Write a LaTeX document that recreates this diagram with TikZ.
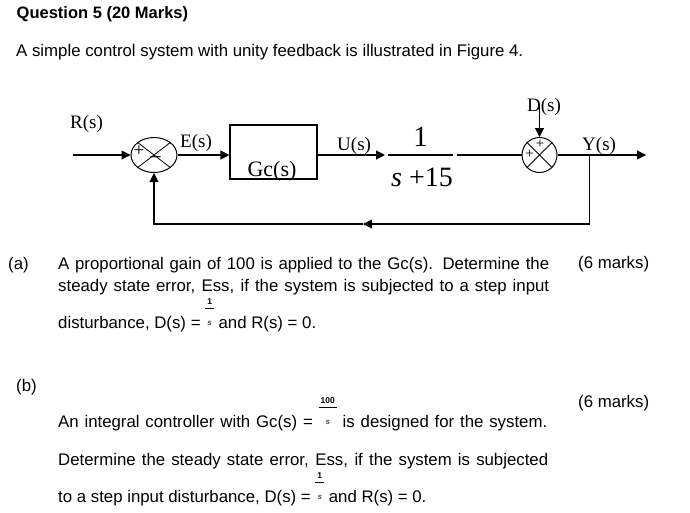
\documentclass[tikz,border=0pt]{standalone}
\usepackage{fontspec}
\setmainfont{Liberation Sans}
\newfontfamily\diagfont{Liberation Serif}
\usetikzlibrary{arrows.meta,positioning,shapes.geometric}
\newlength\fracw
\newcommand\smallfrac[2]{{%
  \setbox0\hbox{\fontsize{8.5}{9}\selectfont\bfseries #1}%
  \setlength\fracw{\wd0}\addtolength\fracw{4pt}%
  \rlap{\raisebox{24pt}{\makebox[\fracw][c]{\copy0}}}%
  \rlap{\raisebox{19pt}{\rule{\fracw}{0.6pt}}}%
  \makebox[\fracw][c]{\raisebox{3pt}{\fontsize{8}{9}\selectfont\bfseries\itshape\color{gray!60!black}#2}}}}

\begin{document}
\begin{tikzpicture}
  [x=1pt,y=-1pt,every node/.style={inner sep=0pt},
   txt/.style={font=\fontsize{16.8}{20}\selectfont,anchor=base west},
   lbl/.style={font=\diagfont\fontsize{19}{22}\selectfont,anchor=base west},
   sgn/.style={font=\diagfont\fontsize{15}{15}\selectfont},
   sumj/.style={draw,line width=1pt},
   arr/.style={line width=1.1pt,-{Triangle[length=9pt,width=9pt]}}]
  \useasboundingbox (0,0) rectangle (690,512);

  % question heading
  \node[txt,font=\bfseries\fontsize{16.5}{20}\selectfont] (q) at (16.5,18.5) {Question 5 (20 Marks)};
  \node[txt,font=\fontsize{16.8}{20}\selectfont] (intro) at (16,56.5) {A simple control system with unity feedback is illustrated in Figure 4.};

  % block diagram
  \node[lbl] (R) at (70,128) {R(s)};
  \coordinate (in) at (73,155);
  \node[sumj,ellipse,minimum width=46pt,minimum height=35pt] (j1) at (154,155) {};
  \draw[line width=.8pt] (j1.north west) -- (j1.south east) (j1.north east) -- (j1.south west);
  \node[sgn,font=\diagfont\fontsize{19}{19}\selectfont] (p1) at (139,151.5) {+};
  \node[sgn,font=\diagfont\fontsize{22}{22}\selectfont] (m1) at (155.5,161) {−};
  \node[lbl] (E) at (180,147) {E(s)};
  \node[draw,line width=1.1pt,minimum width=87pt,minimum height=54pt] (gc) at (273.5,152) {};
  \node[lbl,anchor=base,font=\diagfont\fontsize{22}{24}\selectfont] (gct) at (272,176.5) {Gc(s)};
  \node[lbl] (U) at (337,150) {U(s)};
  \coordinate (pl) at (385,155);
  \node[lbl,anchor=base,font=\diagfont\fontsize{29}{30}\selectfont] (num) at (420.5,146.5) {1};
  \coordinate (fl) at (388,155);
  \coordinate (fr) at (453,155);
  \node[lbl,font=\diagfont\fontsize{28}{30}\selectfont] (den) at (391,186) {{\itshape s} +15};
  \coordinate (pr) at (457,155);
  \node[sumj,circle,minimum size=35pt] (j2) at (539.5,155) {};
  \draw[line width=.8pt] (j2.north west) -- (j2.south east) (j2.north east) -- (j2.south west);
  \node[sgn] (p2) at (540,144) {+};
  \node[sgn] (p3) at (529.5,154.5) {+};
  \node[lbl,anchor=base] (D) at (544,111.5) {D(s)};
  \coordinate (dtop) at (539.5,104);
  \node[lbl] (Y) at (582,150.5) {Y(s)};
  \coordinate (out) at (646,155);
  \coordinate (br) at (589.5,155);
  \coordinate (mid) at (363,224);

  \foreach \from/\to in {in/j1.west,j1.east/j1.east -| gc.west,gc.east |- pl/pl,dtop/j2.north,j2.east/out}
    \draw[arr] (\from) -- (\to);
  \draw[line width=1.1pt] (fl) -- (fr) (pr) -- (j2.west);
  \draw[arr] (br) |- (mid);
  \draw[arr] (mid) -| (j1.south);

  % part (a)
  \node[txt] (la) at (8,269) {(a)};
  \node[txt] (a1) at (58,269) {\makebox[491pt][s]{A proportional gain of 100 is applied to the Gc(s). Determine the}};
  \node[txt] (ma) at (578,268) {(6 marks)};
  \node[txt] (a2) at (58,291) {\makebox[491pt][s]{steady state error, Ess, if the system is subjected to a step input}};
  \node[txt] (a3) at (58,328) {disturbance, D(s) = \smallfrac{1}{s} and R(s) = 0.};

  % part (b)
  \node[txt] (lb) at (16,391) {(b)};
  \node[txt] (mb) at (578,407) {(6 marks)};
  \node[txt] (b1) at (58,427) {\makebox[489pt][s]{An integral controller with Gc(s) = \smallfrac{100}{s} is designed for the system.}};
  \node[txt] (b2) at (58,465) {\makebox[490pt][s]{Determine the steady state error, Ess, if the system is subjected}};
  \node[txt] (b3) at (58,502) {to a step input disturbance, D(s) = \smallfrac{1}{s} and R(s) = 0.};
\end{tikzpicture}
\end{document}
